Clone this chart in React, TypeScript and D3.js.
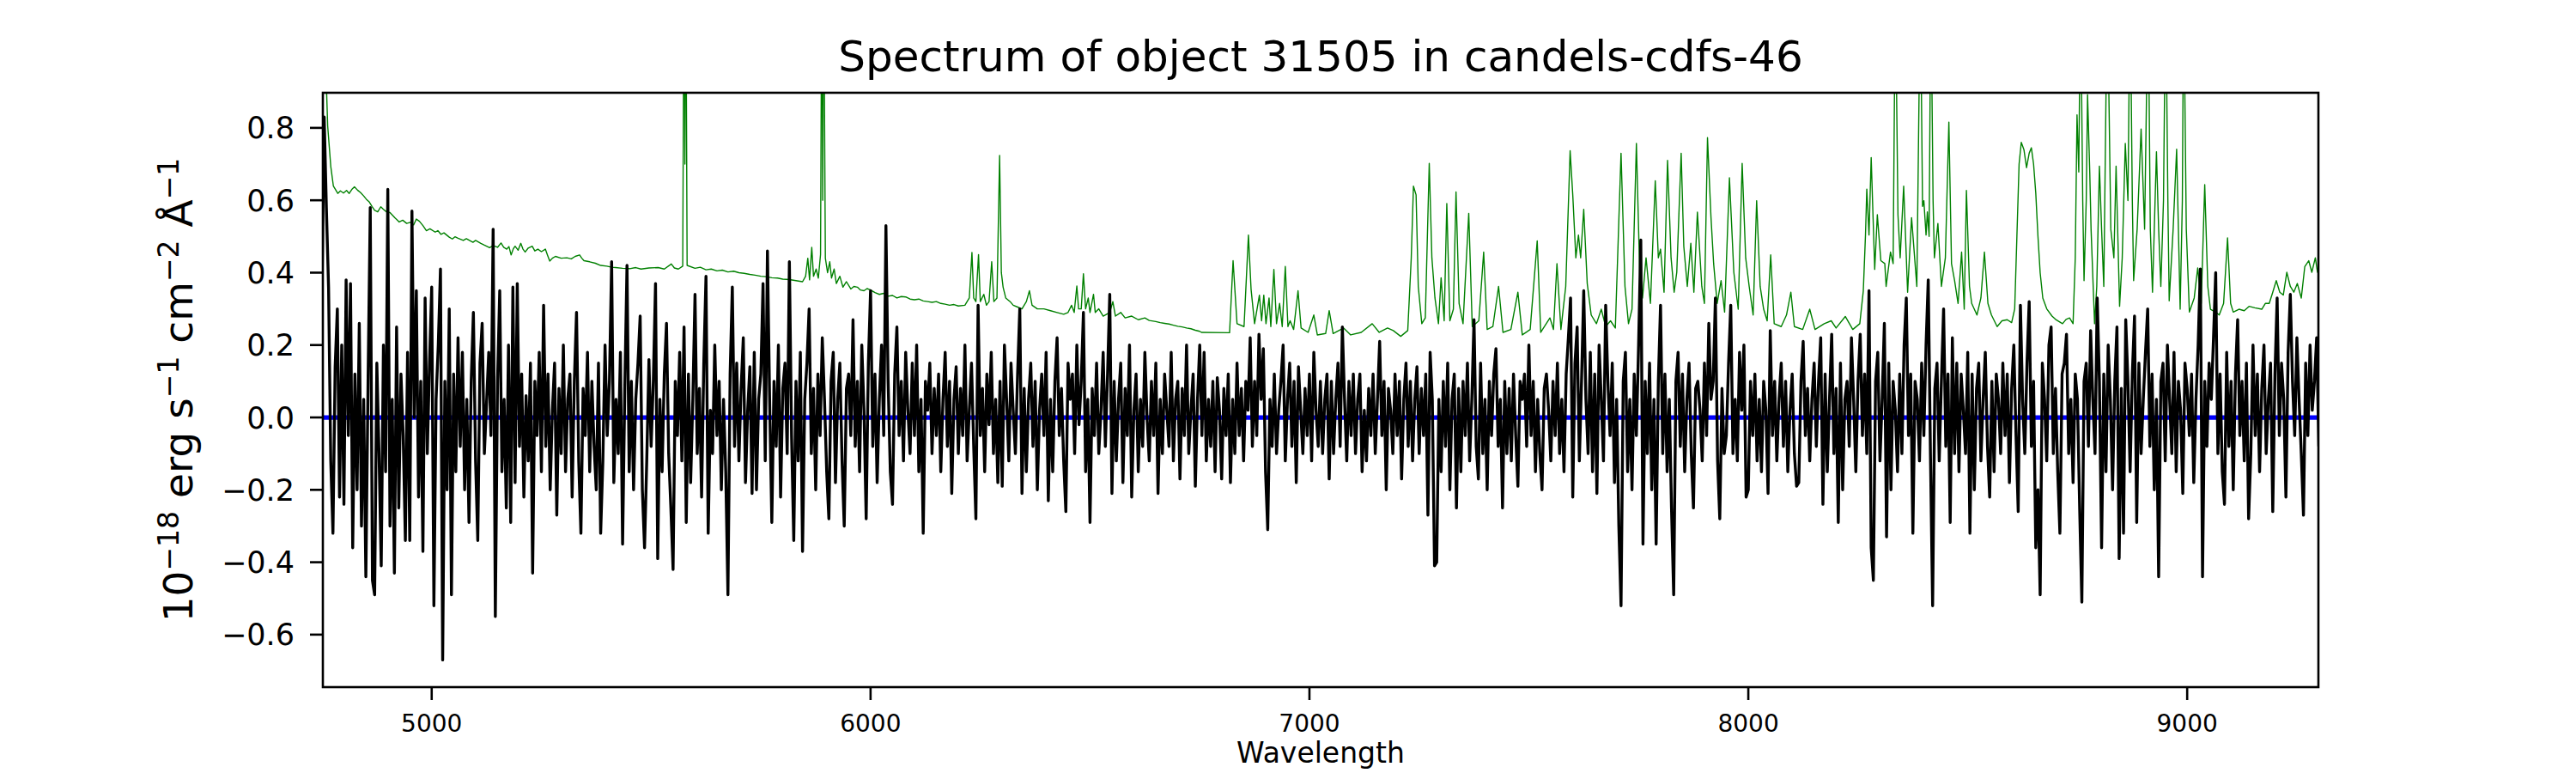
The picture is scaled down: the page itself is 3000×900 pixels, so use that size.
import React, { useEffect } from "react";
import * as d3 from "d3";

// ---------- data ----------
const TITLE = "Spectrum of object 31505 in candels-cdfs-46";
const X_LABEL = "Wavelength";
const X_DOMAIN: [number, number] = [4752, 9299];
const Y_DOMAIN: [number, number] = [-0.745, 0.897];
const X_TICKS = [5000, 6000, 7000, 8000, 9000];
const Y_TICKS = [-0.6, -0.4, -0.2, 0.0, 0.2, 0.4, 0.6, 0.8];

// observed flux, sampled every 5 Å from 4750 Å
const WAVE_START = 4750;
const WAVE_STEP = 5;
const FLUX = [
  0.35, 0.83, 0.58, 0.36, -0.12, -0.32, 0.14, 0.30, -0.22, 0.20, -0.24, 0.38, -0.05, 0.37, -0.36, 0.12, -0.20, 0.26, -0.30, 0.05,
  -0.44, 0.10, 0.58, -0.45, -0.49, 0.15, -0.10, -0.41, 0.20, -0.15, 0.63, -0.30, 0.05, -0.43, 0.25, -0.25, 0.12, -0.05, -0.34, 0.18,
  -0.34, 0.57, 0.00, 0.35, -0.22, 0.10, -0.37, 0.33, -0.10, 0.15, 0.36, -0.52, 0.05, 0.20, 0.41, -0.67, 0.10, -0.20, 0.30, -0.49,
  0.12, -0.15, 0.22, -0.08, 0.18, -0.20, 0.05, -0.29, 0.10, 0.29, -0.12, -0.34, 0.15, 0.26, -0.10, 0.04, 0.18, -0.05, 0.52, -0.55,
  0.10, 0.35, -0.15, 0.05, -0.25, 0.20, -0.29, 0.36, -0.18, 0.37, -0.08, 0.12, -0.22, 0.06, -0.12, 0.15, -0.43, 0.10, -0.05, 0.18,
  -0.15, 0.31, -0.08, 0.12, -0.20, 0.02, 0.15, -0.27, 0.08, -0.10, 0.20, -0.15, 0.05, 0.12, -0.22, 0.10, 0.29, -0.12, -0.32, 0.08,
  -0.05, 0.18, -0.15, 0.10, -0.08, -0.20, 0.15, -0.32, -0.12, 0.20, -0.05, 0.10, 0.43, -0.18, 0.05, -0.10, 0.18, -0.35, 0.08, 0.42,
  -0.15, 0.10, -0.20, 0.05, 0.15, 0.28, -0.20, -0.36, -0.12, 0.16, -0.08, 0.10, 0.37, -0.39, 0.05, -0.15, 0.12, 0.26, -0.10, -0.25,
  -0.42, 0.10, -0.05, 0.18, -0.12, 0.25, -0.29, 0.12, -0.18, 0.05, 0.34, -0.10, 0.08, -0.22, 0.15, 0.39, -0.32, 0.02, -0.10, 0.20,
  -0.05, 0.10, -0.20, 0.05, -0.15, -0.49, 0.12, 0.36, -0.08, 0.15, -0.12, 0.08, 0.22, -0.18, 0.02, 0.14, -0.21, 0.18, -0.20, 0.05,
  0.12, 0.37, -0.12, 0.46, 0.05, -0.29, 0.10, -0.08, 0.20, -0.22, 0.08, 0.15, -0.10, 0.43, -0.05, -0.34, 0.10, -0.12, 0.18, -0.37,
  0.05, 0.15, 0.30, -0.10, 0.08, -0.20, 0.12, -0.05, 0.22, 0.05, -0.15, -0.28, 0.10, 0.18, -0.18, 0.05, 0.15, -0.12, -0.30, 0.08,
  0.12, -0.05, 0.27, -0.08, 0.10, -0.15, 0.20, 0.02, -0.28, 0.15, 0.35, -0.08, 0.12, -0.18, 0.05, 0.20, -0.05, 0.53, 0.10, -0.15,
  -0.24, 0.12, 0.25, -0.05, 0.10, -0.12, 0.18, 0.02, -0.10, 0.15, -0.05, 0.20, -0.15, 0.05, -0.32, 0.10, 0.02, 0.15, -0.10, 0.08,
  -0.05, 0.12, -0.15, 0.05, 0.18, -0.08, 0.10, -0.21, 0.05, 0.14, -0.10, 0.08, -0.05, 0.20, -0.12, 0.02, 0.15, -0.08, -0.28, 0.31,
  -0.05, 0.08, -0.15, 0.12, -0.02, 0.18, -0.10, 0.05, -0.18, 0.10, -0.19, 0.20, 0.05, -0.12, 0.15, 0.02, -0.10, 0.12, 0.30, -0.21,
  0.08, -0.15, 0.05, 0.15, -0.08, 0.10, -0.20, 0.02, 0.12, -0.05, 0.18, -0.23, 0.05, -0.15, 0.10, 0.22, -0.05, 0.08, -0.12, -0.26,
  0.15, 0.05, 0.12, -0.10, 0.20, -0.02, 0.10, 0.29, -0.15, 0.05, -0.29, 0.08, -0.05, 0.15, -0.10, 0.02, 0.18, -0.08, 0.12, 0.34,
  -0.21, 0.10, -0.12, 0.05, 0.15, -0.18, 0.08, -0.05, 0.20, -0.22, 0.02, 0.12, -0.15, 0.05, -0.08, 0.18, 0.00, -0.12, 0.10, -0.05,
  0.15, -0.21, 0.05, -0.10, 0.12, 0.02, -0.08, 0.18, -0.12, 0.05, 0.10, -0.17, 0.08, -0.05, 0.20, -0.10, 0.02, 0.12, -0.19, 0.05,
  0.20, -0.05, 0.18, -0.12, 0.05, -0.08, 0.10, -0.15, 0.11, 0.02, -0.17, 0.08, -0.05, 0.12, -0.18, 0.05, -0.10, 0.15, -0.05, 0.08,
  -0.12, 0.10, 0.02, 0.22, -0.08, 0.10, -0.05, 0.23, 0.05, 0.19, -0.15, -0.31, 0.05, -0.08, 0.12, -0.10, 0.02, 0.10, 0.20, -0.12,
  0.05, 0.15, -0.08, 0.10, -0.18, 0.14, 0.02, -0.10, 0.08, -0.05, 0.12, -0.12, 0.18, 0.02, -0.08, 0.10, -0.10, 0.05, 0.12, -0.17,
  0.10, -0.10, 0.05, 0.15, -0.08, 0.25, 0.05, -0.12, 0.10, -0.05, 0.12, -0.10, 0.05, 0.12, -0.15, 0.02, -0.12, 0.08, -0.05, 0.12,
  -0.10, 0.05, 0.21, -0.05, 0.10, -0.20, 0.08, 0.02, -0.10, 0.12, -0.05, 0.10, -0.17, 0.05, 0.15, -0.08, 0.10, -0.12, 0.05, 0.14,
  -0.10, 0.08, -0.05, 0.12, -0.27, 0.18, 0.05, -0.41, -0.40, 0.05, -0.15, 0.10, -0.08, 0.15, -0.20, 0.05, 0.12, -0.25, 0.08, -0.15,
  0.10, -0.05, 0.15, -0.12, 0.05, 0.27, -0.08, -0.17, 0.15, -0.10, 0.05, -0.20, 0.10, -0.05, 0.12, 0.19, -0.08, 0.05, -0.25, 0.10,
  -0.10, 0.08, -0.12, 0.12, -0.05, -0.19, 0.10, 0.05, 0.12, -0.08, 0.20, -0.05, 0.10, -0.15, 0.05, -0.10, -0.20, 0.08, 0.12, 0.02,
  -0.12, 0.10, -0.05, 0.15, -0.10, 0.05, -0.15, 0.12, 0.22, 0.33, -0.22, 0.15, 0.25, -0.12, 0.10, 0.35, 0.05, -0.10, 0.18, -0.15,
  0.12, -0.21, 0.20, 0.05, -0.12, 0.31, 0.10, -0.05, 0.15, -0.18, 0.05, -0.30, -0.52, 0.10, 0.18, -0.15, 0.05, -0.20, 0.12, -0.05,
  0.20, 0.49, -0.35, 0.10, -0.10, 0.15, -0.20, 0.05, -0.35, 0.10, 0.31, -0.10, 0.12, -0.15, 0.05, -0.25, -0.49, 0.10, 0.18, -0.08,
  0.12, -0.15, 0.05, 0.15, -0.10, -0.25, 0.08, 0.10, 0.02, -0.12, 0.15, -0.05, 0.26, 0.05, 0.10, 0.33, -0.12, -0.28, 0.08, -0.10,
  -0.05, 0.15, 0.31, -0.10, 0.05, -0.12, 0.18, 0.02, 0.20, -0.22, -0.20, 0.10, -0.05, 0.12, -0.12, 0.05, -0.15, 0.10, 0.02, -0.21,
  0.24, -0.05, 0.10, -0.12, 0.05, 0.15, -0.08, 0.10, -0.15, 0.02, 0.12, -0.10, -0.19, -0.18, 0.10, 0.21, -0.05, 0.08, -0.12, 0.05,
  0.15, -0.08, 0.10, 0.22, -0.24, 0.12, -0.15, 0.05, 0.23, -0.10, 0.08, -0.29, 0.15, -0.20, 0.05, 0.10, -0.08, 0.22, 0.05, -0.15,
  0.10, 0.23, -0.05, 0.12, -0.10, 0.35, -0.36, -0.45, 0.10, 0.18, -0.12, 0.05, 0.26, -0.33, 0.15, -0.20, 0.10, 0.02, -0.15, 0.12,
  -0.10, 0.20, 0.33, -0.05, 0.12, -0.32, 0.10, 0.05, -0.12, 0.15, -0.05, 0.20, 0.38, -0.10, -0.52, 0.08, 0.15, -0.12, 0.10, 0.30,
  -0.08, 0.12, -0.29, 0.22, -0.10, 0.15, -0.15, 0.12, 0.02, -0.10, 0.18, -0.32, 0.12, -0.20, 0.08, 0.15, -0.12, 0.05, 0.18, -0.08,
  -0.22, 0.10, -0.15, 0.12, 0.05, -0.10, 0.15, -0.05, 0.12, -0.18, 0.08, 0.20, -0.05, -0.26, 0.31, 0.05, -0.10, 0.15, 0.32, -0.08,
  0.10, -0.36, -0.20, -0.49, 0.15, 0.05, -0.12, 0.20, 0.25, -0.10, 0.08, -0.15, -0.32, 0.12, 0.15, 0.23, -0.10, 0.05, -0.18, 0.12,
  0.05, -0.25, -0.51, 0.10, 0.15, -0.08, 0.24, 0.05, -0.10, 0.33, 0.10, -0.36, 0.12, -0.15, 0.20, 0.05, -0.20, 0.10, 0.25, -0.39,
  0.08, -0.32, 0.27, 0.10, -0.15, 0.12, 0.28, -0.29, 0.15, -0.10, 0.05, 0.18, 0.30, -0.08, 0.12, -0.20, 0.05, -0.44, 0.10, 0.15,
  -0.12, 0.20, 0.05, -0.10, 0.18, -0.15, 0.10, 0.02, -0.21, 0.15, 0.08, -0.05, 0.12, -0.18, 0.05, 0.20, 0.41, -0.44, 0.10, -0.08,
  0.15, 0.05, 0.22, 0.40, -0.10, 0.12, -0.15, -0.24, 0.18, -0.08, 0.10, -0.20, 0.12, 0.27, -0.05, 0.10, -0.12, 0.15, -0.28, -0.10,
  0.20, -0.05, 0.12, -0.15, 0.08, 0.20, -0.10, 0.05, 0.15, -0.26, 0.12, 0.33, -0.05, 0.15, 0.05, -0.22, 0.18, 0.34, 0.10, -0.05,
  0.22, 0.05, -0.10, -0.27, 0.15, -0.05, 0.20, 0.02, 0.10, 0.22, -0.08,
];

// model (blue) spectrum: flat zero
const MODEL_WAVE = [4750, 9300];
const MODEL_FLUX = [0, 0];

// noise / sky spectrum (green): [wavelength, value]
const NOISE: [number, number][] = [
  [4752, 1.0], [4760, 0.92], [4763, 0.805], [4770, 0.694], [4776, 0.639], [4786, 0.619], [4792, 0.626], [4799, 0.62],
  [4806, 0.627], [4812, 0.619], [4818, 0.63], [4824, 0.637], [4831, 0.628], [4838, 0.621], [4845, 0.612], [4851, 0.603],
  [4858, 0.595], [4864, 0.583], [4870, 0.572], [4877, 0.568], [4884, 0.582], [4890, 0.575], [4897, 0.568], [4905, 0.566],
  [4916, 0.552], [4926, 0.54], [4934, 0.545], [4943, 0.536], [4951, 0.539], [4959, 0.532], [4965, 0.548], [4972, 0.542],
  [4980, 0.53], [4988, 0.516], [4996, 0.521], [5008, 0.512], [5014, 0.516], [5021, 0.506], [5028, 0.51], [5034, 0.504],
  [5040, 0.498], [5047, 0.493], [5053, 0.499], [5060, 0.495], [5072, 0.489], [5079, 0.494], [5086, 0.489], [5094, 0.484],
  [5100, 0.489], [5112, 0.481], [5120, 0.476], [5132, 0.469], [5140, 0.475], [5150, 0.47], [5158, 0.482], [5164, 0.47],
  [5171, 0.465], [5176, 0.472], [5181, 0.449], [5186, 0.466], [5190, 0.473], [5197, 0.462], [5203, 0.481], [5208, 0.465],
  [5213, 0.457], [5220, 0.468], [5229, 0.473], [5235, 0.46], [5242, 0.465], [5250, 0.458], [5259, 0.465], [5264, 0.448],
  [5269, 0.432], [5275, 0.44], [5282, 0.445], [5295, 0.44], [5308, 0.441], [5318, 0.438], [5327, 0.445], [5337, 0.449],
  [5342, 0.44], [5347, 0.433], [5360, 0.43], [5373, 0.426], [5385, 0.42], [5399, 0.418], [5410, 0.415], [5419, 0.414],
  [5435, 0.412], [5451, 0.411], [5465, 0.414], [5477, 0.41], [5495, 0.413], [5516, 0.414], [5530, 0.41], [5546, 0.424],
  [5553, 0.413], [5562, 0.41], [5572, 0.418], [5575, 1.3], [5577, 0.7], [5579, 1.3], [5582, 0.42],
  [5600, 0.412], [5612, 0.415], [5625, 0.408], [5637, 0.41], [5650, 0.405], [5662, 0.407], [5675, 0.402], [5688, 0.404],
  [5700, 0.4], [5712, 0.398], [5725, 0.395], [5737, 0.393], [5750, 0.39], [5762, 0.389], [5775, 0.386], [5788, 0.385],
  [5800, 0.382], [5815, 0.381], [5830, 0.378], [5845, 0.375], [5852, 0.39], [5857, 0.44], [5861, 0.38],
  [5866, 0.47], [5870, 0.39], [5876, 0.41], [5881, 0.385], [5886, 0.45], [5889, 1.3], [5891, 0.6], [5893, 1.3],
  [5897, 0.44], [5902, 0.4], [5907, 0.43], [5911, 0.385], [5917, 0.41], [5922, 0.37], [5930, 0.39], [5937, 0.36],
  [5945, 0.375], [5955, 0.355], [5962, 0.362], [5970, 0.36], [5977, 0.352], [5985, 0.35], [5992, 0.356], [6000, 0.352],
  [6010, 0.345], [6020, 0.34], [6030, 0.343], [6040, 0.335], [6050, 0.337], [6060, 0.33], [6070, 0.334], [6080, 0.333],
  [6090, 0.327], [6100, 0.325], [6110, 0.327], [6120, 0.322], [6130, 0.32], [6140, 0.318], [6150, 0.32], [6160, 0.315],
  [6170, 0.313], [6180, 0.31], [6190, 0.312], [6200, 0.308], [6215, 0.31], [6225, 0.33], [6231, 0.456], [6235, 0.33],
  [6240, 0.32], [6246, 0.45], [6250, 0.32], [6258, 0.34], [6264, 0.31], [6270, 0.32], [6276, 0.43], [6281, 0.32],
  [6288, 0.33], [6294, 0.724], [6298, 0.4], [6302, 0.36], [6308, 0.33], [6318, 0.32], [6325, 0.31], [6335, 0.305],
  [6345, 0.3], [6355, 0.32], [6362, 0.35], [6368, 0.31], [6380, 0.3], [6395, 0.3], [6410, 0.295], [6425, 0.29],
  [6440, 0.285], [6450, 0.29], [6458, 0.31], [6464, 0.29], [6470, 0.363], [6474, 0.3], [6480, 0.3], [6485, 0.397],
  [6490, 0.3], [6496, 0.33], [6500, 0.29], [6508, 0.34], [6512, 0.29], [6520, 0.3], [6530, 0.28], [6545, 0.29],
  [6552, 0.32], [6558, 0.28], [6570, 0.29], [6580, 0.275], [6595, 0.28], [6610, 0.27], [6625, 0.275], [6635, 0.268],
  [6650, 0.265], [6660, 0.262], [6670, 0.26], [6680, 0.258], [6690, 0.255], [6700, 0.252], [6710, 0.25], [6720, 0.247],
  [6730, 0.245], [6740, 0.241], [6750, 0.238],
  [6754, 0.235], [6818, 0.234], [6826, 0.433], [6835, 0.259], [6851, 0.251], [6861, 0.504], [6867, 0.354],
  [6875, 0.259], [6886, 0.338], [6891, 0.267], [6896, 0.338], [6901, 0.259], [6908, 0.33], [6912, 0.251],
  [6919, 0.409], [6925, 0.259], [6932, 0.315], [6938, 0.251], [6945, 0.417], [6951, 0.251], [6956, 0.267],
  [6964, 0.243], [6974, 0.35], [6981, 0.247], [6997, 0.235], [7010, 0.283], [7018, 0.228], [7037, 0.232],
  [7045, 0.295], [7054, 0.232], [7078, 0.247], [7094, 0.228], [7118, 0.235], [7143, 0.259], [7159, 0.235],
  [7178, 0.247], [7191, 0.24], [7208, 0.224], [7224, 0.24], [7232, 0.441], [7237, 0.639], [7243, 0.615],
  [7248, 0.362], [7256, 0.259], [7264, 0.275], [7273, 0.702], [7279, 0.441], [7286, 0.33], [7294, 0.259],
  [7300, 0.386], [7307, 0.267], [7313, 0.591], [7320, 0.267], [7328, 0.299], [7334, 0.623], [7341, 0.315],
  [7350, 0.259], [7363, 0.564], [7371, 0.251], [7386, 0.267], [7397, 0.457], [7405, 0.243], [7418, 0.251],
  [7431, 0.362], [7441, 0.235], [7459, 0.243], [7475, 0.346], [7485, 0.228], [7503, 0.243], [7519, 0.488],
  [7527, 0.235], [7548, 0.275], [7556, 0.243], [7564, 0.425], [7573, 0.243], [7584, 0.362], [7594, 0.737],
  [7600, 0.615], [7607, 0.441], [7613, 0.504], [7618, 0.441], [7625, 0.575], [7633, 0.37], [7642, 0.283],
  [7654, 0.259], [7665, 0.299], [7675, 0.251], [7686, 0.267], [7697, 0.247], [7710, 0.73], [7719, 0.362],
  [7727, 0.259], [7735, 0.299], [7745, 0.757], [7753, 0.378], [7759, 0.33], [7767, 0.441], [7777, 0.315],
  [7788, 0.654], [7795, 0.441], [7800, 0.465], [7808, 0.346], [7816, 0.71], [7824, 0.441], [7831, 0.346],
  [7837, 0.401], [7847, 0.73], [7853, 0.473], [7861, 0.362], [7869, 0.481], [7876, 0.346], [7884, 0.567],
  [7894, 0.362], [7900, 0.315], [7907, 0.773], [7915, 0.552], [7921, 0.425], [7929, 0.315], [7938, 0.378],
  [7946, 0.291], [7957, 0.662], [7967, 0.401], [7977, 0.299], [7986, 0.702], [7994, 0.441], [8002, 0.362],
  [8011, 0.283], [8019, 0.599], [8027, 0.362], [8035, 0.299], [8043, 0.267], [8051, 0.449], [8059, 0.259],
  [8075, 0.251], [8087, 0.283], [8097, 0.346], [8105, 0.251], [8124, 0.243], [8140, 0.299], [8152, 0.243],
  [8173, 0.259], [8189, 0.267], [8200, 0.247], [8221, 0.279], [8238, 0.243], [8254, 0.259], [8262, 0.349],
  [8267, 0.504], [8270, 0.631], [8275, 0.504], [8280, 0.718], [8288, 0.409], [8294, 0.56], [8302, 0.433],
  [8311, 0.425], [8314, 0.362], [8324, 0.457], [8330, 0.425], [8335, 1.2], [8341, 0.56], [8346, 0.441],
  [8354, 0.639], [8363, 0.346], [8372, 0.552], [8384, 0.362], [8392, 1.2], [8397, 0.583], [8400, 0.599],
  [8405, 0.504], [8408, 0.568], [8412, 0.5], [8416, 1.2], [8421, 0.599], [8424, 0.441], [8432, 0.536],
  [8440, 0.362], [8449, 0.441], [8457, 0.816], [8463, 0.425], [8470, 0.378], [8478, 0.315], [8486, 0.457],
  [8492, 0.299], [8497, 0.627], [8504, 0.362], [8509, 0.315], [8521, 0.283], [8530, 0.33], [8538, 0.457],
  [8546, 0.315], [8554, 0.283], [8567, 0.251], [8578, 0.267], [8590, 0.27], [8600, 0.262], [8607, 0.3],
  [8612, 0.5], [8617, 0.7], [8622, 0.76], [8628, 0.74], [8634, 0.69], [8640, 0.73], [8645, 0.745],
  [8650, 0.7], [8655, 0.62], [8660, 0.5], [8665, 0.4], [8671, 0.33], [8680, 0.3], [8692, 0.28], [8700, 0.271], [8716, 0.259],
  [8724, 0.271], [8732, 0.275], [8740, 0.259], [8745, 0.441], [8749, 0.836], [8753, 0.678], [8757, 1.2],
  [8762, 0.599], [8765, 0.378], [8770, 0.599], [8773, 0.892], [8778, 0.678], [8781, 0.52], [8789, 0.259],
  [8794, 0.362], [8800, 0.694], [8805, 0.52], [8810, 0.362], [8818, 1.2], [8826, 0.52], [8833, 0.441],
  [8838, 0.694], [8846, 0.307], [8852, 0.441], [8859, 0.757], [8865, 0.599], [8870, 1.2], [8875, 0.599],
  [8878, 0.378], [8886, 0.52], [8895, 0.797], [8903, 0.52], [8911, 1.2], [8916, 0.52], [8921, 0.346],
  [8930, 0.734], [8935, 0.52], [8940, 0.362], [8946, 0.599], [8951, 1.2], [8956, 0.599], [8959, 0.322],
  [8968, 0.52], [8976, 0.741], [8984, 0.299], [8989, 0.599], [8992, 1.2], [8998, 0.52], [9005, 0.291],
  [9016, 0.33], [9024, 0.413], [9032, 0.315], [9040, 0.643], [9047, 0.362], [9053, 0.299], [9065, 0.291],
  [9073, 0.283], [9083, 0.315], [9092, 0.496], [9099, 0.315], [9105, 0.291], [9118, 0.299], [9130, 0.295],
  [9141, 0.307], [9154, 0.303], [9170, 0.299], [9178, 0.315], [9187, 0.315], [9195, 0.346], [9203, 0.378],
  [9211, 0.346], [9219, 0.338], [9227, 0.401], [9235, 0.362], [9243, 0.346], [9251, 0.37], [9260, 0.33],
  [9268, 0.417], [9277, 0.433], [9284, 0.401], [9292, 0.441], [9297, 0.401], [9300, 0.4],
];

// ---------- layout ----------
const W = 3000;
const H = 900;
const LEFT = 376;
const RIGHT = 2700;
const TOP = 108;
const BOTTOM = 800;
const FONT = "DejaVu Sans, sans-serif";

const fmtY = (v: number) => {
  const s = Math.abs(v).toFixed(1);
  return v < -1e-9 ? "\u2212" + s : s;
};

export default function App() {
  useEffect(() => {
    document.body.style.margin = "0";
  }, []);

  const x = d3.scaleLinear().domain(X_DOMAIN).range([LEFT, RIGHT]);
  const y = d3.scaleLinear().domain(Y_DOMAIN).range([BOTTOM, TOP]);

  const line = d3
    .line<[number, number]>()
    .x((d) => x(d[0]))
    .y((d) => y(d[1]));

  const fluxPts: [number, number][] = FLUX.map((v, i) => [WAVE_START + i * WAVE_STEP, v]);
  const modelPts: [number, number][] = MODEL_WAVE.map((w, i) => [w, MODEL_FLUX[i]]);

  const supSize = 33;
  const supShift = 16;

  return (
    <svg
      width={W}
      height={H}
      viewBox={`0 0 ${W} ${H}`}
      style={{ position: "absolute", left: 0, top: 0, background: "#fff" }}
      fontFamily={FONT}
    >
      <rect x={0} y={0} width={W} height={H} fill="#fff" />
      <defs>
        <clipPath id="plot">
          <rect x={LEFT} y={TOP} width={RIGHT - LEFT} height={BOTTOM - TOP} />
        </clipPath>
      </defs>

      <g clipPath="url(#plot)">
        <path d={line(NOISE) || ""} fill="none" stroke="#008000" strokeWidth={1.4} strokeLinejoin="round" />
        <path d={line(modelPts) || ""} fill="none" stroke="#0000ff" strokeWidth={5.3} />
        <path d={line(fluxPts) || ""} fill="none" stroke="#000" strokeWidth={3.4} strokeLinejoin="round" />
      </g>

      {/* spines */}
      <rect x={LEFT} y={TOP} width={RIGHT - LEFT} height={BOTTOM - TOP} fill="none" stroke="#000" strokeWidth={2.6} />

      {/* x ticks */}
      {X_TICKS.map((t) => (
        <g key={"x" + t}>
          <line x1={x(t)} x2={x(t)} y1={BOTTOM} y2={BOTTOM + 15} stroke="#000" strokeWidth={2.6} />
          <text x={x(t)} y={852} textAnchor="middle" fontSize={28}>
            {t}
          </text>
        </g>
      ))}

      {/* y ticks */}
      {Y_TICKS.map((t) => (
        <g key={"y" + t}>
          <line x1={LEFT - 15} x2={LEFT} y1={y(t)} y2={y(t)} stroke="#000" strokeWidth={2.6} />
          <text x={343} y={y(t) + 12.6} textAnchor="end" fontSize={35}>
            {fmtY(t)}
          </text>
        </g>
      ))}

      {/* title */}
      <text x={(LEFT + RIGHT) / 2} y={83} textAnchor="middle" fontSize={50}>
        {TITLE}
      </text>

      {/* x label */}
      <text x={(LEFT + RIGHT) / 2} y={888} textAnchor="middle" fontSize={33}>
        {X_LABEL}
      </text>

      {/* y label */}
      <text
        transform={`translate(224,${(TOP + BOTTOM) / 2}) rotate(-90)`}
        textAnchor="middle"
        fontSize={47}
        style={{ whiteSpace: "pre" }}
      >
        <tspan>10</tspan>
        <tspan fontSize={supSize} dy={-supShift}>{"\u221218"}</tspan>
        <tspan dy={supShift}>{" erg s"}</tspan>
        <tspan fontSize={supSize} dy={-supShift}>{"\u22121"}</tspan>
        <tspan dy={supShift}>{" cm"}</tspan>
        <tspan fontSize={supSize} dy={-supShift}>{"\u22122"}</tspan>
        <tspan dy={supShift}>{" \u00c5"}</tspan>
        <tspan fontSize={supSize} dy={-supShift}>{"\u22121"}</tspan>
      </text>
    </svg>
  );
}
